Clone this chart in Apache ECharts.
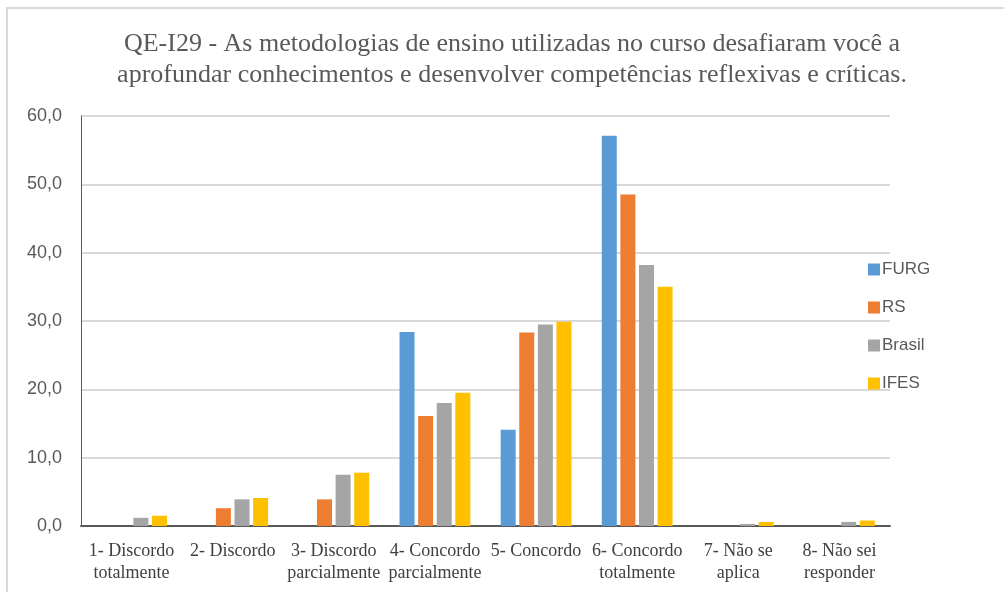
<!DOCTYPE html>
<html>
<head>
<meta charset="utf-8">
<script src="https://cdn.jsdelivr.net/npm/echarts@6/dist/echarts.min.js"></script>
<style>
html,body{margin:0;padding:0;background:#fff;overflow:hidden;}
#main{width:1004px;height:592px;}
</style>
</head>
<body>
<div id="main"></div>
<script>
// categorias (eixo x)
let categorias = ['1- Discordo\ntotalmente', '2- Discordo', '3- Discordo\nparcialmente', '4- Concordo\nparcialmente',
	'5- Concordo', '6- Concordo\ntotalmente', '7- Não se\naplica', '8- Não sei\nresponder'];
// valores (%)
let furg   = [0, 0, 0, 28.4, 14.1, 57.1, 0, 0];
let rs     = [0, 2.6, 3.9, 16.1, 28.3, 48.5, 0, 0];
let brasil = [1.2, 3.9, 7.5, 18.0, 29.5, 38.2, 0.3, 0.6];
let ifes   = [1.5, 4.1, 7.8, 19.5, 29.9, 35.0, 0.6, 0.8];
let ticksY = [0, 10, 20, 30, 40, 50, 60];

let myChart = echarts.init(document.getElementById('main'));

function serie(nome, dados, cor){
	return {
		name: nome,
		type: 'bar',
		data: dados,
		barWidth: 15,
		barGap: '24%',
		itemStyle: {color: cor},
		emphasis: {disabled: true}
	};
}

let option = {
	animation: false,
	// moldura cinza (só borda esquerda e de cima)
	graphic: [{
		type: 'polyline',
		silent: true,
		shape: {points: [[7, 600], [7, 8], [1010, 8]]},
		style: {stroke: '#d9d9d9', lineWidth: 2, fill: null}
	}],
	title: {
		text: 'QE-I29 - As metodologias de ensino utilizadas no curso desafiaram você a\naprofundar conhecimentos e desenvolver competências reflexivas e críticas.',
		left: 507,
		top: 24,
		textAlign: 'center',
		textStyle: {
			fontFamily: 'Liberation Serif',
			fontWeight: 'normal',
			fontSize: 26,
			color: '#595959',
			lineHeight: 31
		}
	},
	legend: {
		orient: 'vertical',
		left: 863,
		top: 256,
		itemWidth: 12,
		itemHeight: 12,
		itemGap: 21,
		icon: 'rect',
		textStyle: {fontFamily: 'Liberation Sans', fontSize: 17, color: '#595959', padding: [0, 0, 0, -3]},
		data: ['FURG', 'RS', 'Brasil', 'IFES']
	},
	grid: {left: 81, right: 114, top: 116, bottom: 66},
	xAxis: {
		type: 'category',
		data: categorias,
		axisLine: {lineStyle: {color: '#595959', width: 2}},
		axisTick: {show: false},
		axisLabel: {
			interval: 0,
			fontFamily: 'Liberation Serif',
			fontSize: 18,
			color: '#404040',
			lineHeight: 22,
			margin: 14
		}
	},
	yAxis: {
		type: 'value',
		min: 0,
		max: 60,
		interval: 10,
		axisLine: {show: true, lineStyle: {color: '#595959', width: 1}},
		axisTick: {show: false},
		splitLine: {lineStyle: {color: '#d9d9d9', width: 2}},
		axisLabel: {
			fontFamily: 'Liberation Sans',
			fontSize: 18,
			color: '#595959',
			margin: 19,
			formatter: function(v){ return ticksY.indexOf(v) >= 0 ? v.toFixed(1).replace('.', ',') : ''; }
		}
	},
	series: [
		serie('FURG', furg, '#5b9bd5'),
		serie('RS', rs, '#ed7d31'),
		serie('Brasil', brasil, '#a5a5a5'),
		serie('IFES', ifes, '#ffc000')
	]
};
myChart.setOption(option);
</script>
</body>
</html>
